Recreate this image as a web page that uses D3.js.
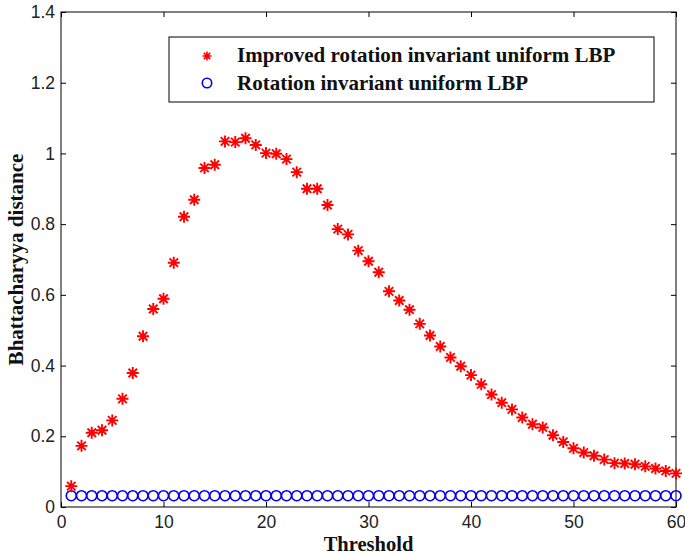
<!DOCTYPE html>
<html>
<head>
<meta charset="utf-8">
<script src="https://cdn.jsdelivr.net/npm/d3@7"></script>
<style>
  html, body { margin: 0; padding: 0; background: #fff; }
  svg { display: block; }
</style>
</head>
<body>
<div id="chart"></div>
<script>
const thresholds = [1,2,3,4,5,6,7,8,9,10,11,12,13,14,15,16,17,18,19,20,
  21,22,23,24,25,26,27,28,29,30,31,32,33,34,35,36,37,38,39,40,
  41,42,43,44,45,46,47,48,49,50,51,52,53,54,55,56,57,58,59,60];
const improvedLBP = [0.059,0.173,0.210,0.217,0.245,0.306,0.379,0.483,0.560,0.589,
  0.691,0.821,0.869,0.959,0.968,1.034,1.032,1.043,1.024,1.001,
  0.999,0.984,0.947,0.900,0.900,0.854,0.786,0.771,0.725,0.695,
  0.664,0.610,0.584,0.558,0.518,0.485,0.454,0.423,0.398,0.373,
  0.347,0.318,0.295,0.276,0.253,0.234,0.225,0.203,0.184,0.166,
  0.154,0.145,0.134,0.124,0.123,0.121,0.115,0.109,0.102,0.095];
const riuLBP = [0.032,0.032,0.032,0.032,0.032,0.032,0.032,0.032,0.032,0.032,
  0.032,0.032,0.032,0.032,0.032,0.032,0.032,0.032,0.032,0.032,
  0.032,0.032,0.032,0.032,0.032,0.032,0.032,0.032,0.032,0.032,
  0.032,0.032,0.032,0.032,0.032,0.032,0.032,0.032,0.032,0.032,
  0.032,0.032,0.032,0.032,0.032,0.032,0.032,0.032,0.032,0.032,
  0.032,0.032,0.032,0.032,0.032,0.032,0.032,0.032,0.032,0.032];
const xTicks = [0,10,20,30,40,50,60];
const yTicks = [0,0.2,0.4,0.6,0.8,1,1.2,1.4];
const seriesNames = ["Improved rotation invariant uniform LBP", "Rotation invariant uniform LBP"];
const xLabel = "Threshold";
const yLabel = "Bhattacharyya distance";

(function () {
const W = 685, H = 554;
const pL = 61, pR = 676, pT = 12, pB = 507;

const svg = d3.select("#chart").append("svg").attr("width", W).attr("height", H);

const x = d3.scaleLinear().domain([0, 60]).range([pL, pR]);
const y = d3.scaleLinear().domain([0, 1.4]).range([pB, pT]);

svg.append("rect").attr("x", pL).attr("y", pT).attr("width", pR - pL).attr("height", pB - pT)
  .attr("fill", "none").attr("stroke", "#000").attr("stroke-width", 1);

const tickFont = "'Liberation Sans', Arial, sans-serif";
const tl = 5;
const gx = svg.append("g").attr("transform", `translate(0,${pB})`)
  .call(d3.axisBottom(x).tickValues(xTicks).tickSize(-tl).tickPadding(9).tickFormat(d3.format("d")));
gx.select(".domain").remove();
const gxt = svg.append("g").attr("transform", `translate(0,${pT})`)
  .call(d3.axisTop(x).tickValues(xTicks).tickSize(-tl).tickFormat(""));
gxt.select(".domain").remove();
const gy = svg.append("g").attr("transform", `translate(${pL},0)`)
  .call(d3.axisLeft(y).tickValues(yTicks).tickSize(-tl).tickPadding(6).tickFormat(d => d3.format("~g")(d)));
gy.select(".domain").remove();
const gyr = svg.append("g").attr("transform", `translate(${pR},0)`)
  .call(d3.axisRight(y).tickValues(yTicks).tickSize(-tl).tickFormat(""));
gyr.select(".domain").remove();

svg.selectAll(".tick text").attr("font-family", tickFont).attr("font-size", 17.5).attr("fill", "#222");
svg.selectAll(".tick line").attr("stroke", "#000");

const serif = "'Liberation Serif', 'Times New Roman', serif";
svg.append("text").attr("x", (pL + pR) / 2).attr("y", 551).attr("text-anchor", "middle")
  .attr("font-family", serif).attr("font-weight", "bold")
  .attr("font-size", 20.5).attr("fill", "#111").text(xLabel);
svg.append("text").attr("transform", `translate(23,${(pT + pB) / 2}) rotate(-90)`).attr("text-anchor", "middle")
  .attr("font-family", serif).attr("font-weight", "bold")
  .attr("font-size", 21).attr("fill", "#111").text(yLabel);

function starPath(s) {
  const d = s * 0.7071;
  return `M${-s},0L${s},0M0,${-s}L0,${s}M${-d},${-d}L${d},${d}M${-d},${d}L${d},${-d}`;
}

const data1 = thresholds.map((t, i) => ({ t, v: improvedLBP[i] }));
const data2 = thresholds.map((t, i) => ({ t, v: riuLBP[i] }));

svg.append("g").selectAll("circle").data(data2).enter().append("circle")
  .attr("cx", d => x(d.t)).attr("cy", d => y(d.v)).attr("r", 5)
  .attr("fill", "none").attr("stroke", "#0000ee").attr("stroke-width", 1.6);

svg.append("g").selectAll("path").data(data1).enter().append("path")
  .attr("transform", d => `translate(${x(d.t)},${y(d.v)})`)
  .attr("d", starPath(6)).attr("stroke", "#ff0000").attr("stroke-width", 1.9).attr("fill", "none");

const lg = svg.append("g");
lg.append("rect").attr("x", 169).attr("y", 37).attr("width", 485).attr("height", 65)
  .attr("fill", "#fff").attr("stroke", "#000").attr("stroke-width", 1);
lg.append("path").attr("transform", "translate(207,56)").attr("d", starPath(4.5))
  .attr("stroke", "#ff0000").attr("stroke-width", 1.6).attr("fill", "none");
lg.append("circle").attr("cx", 207).attr("cy", 83).attr("r", 4.7)
  .attr("fill", "none").attr("stroke", "#0000ee").attr("stroke-width", 1.6);
lg.selectAll("text").data(seriesNames).enter().append("text")
  .attr("x", 237).attr("y", (d, i) => 62 + i * 28)
  .attr("font-family", serif).attr("font-weight", "bold")
  .attr("font-size", 21).attr("fill", "#111").text(d => d);
})();
</script>
</body>
</html>
